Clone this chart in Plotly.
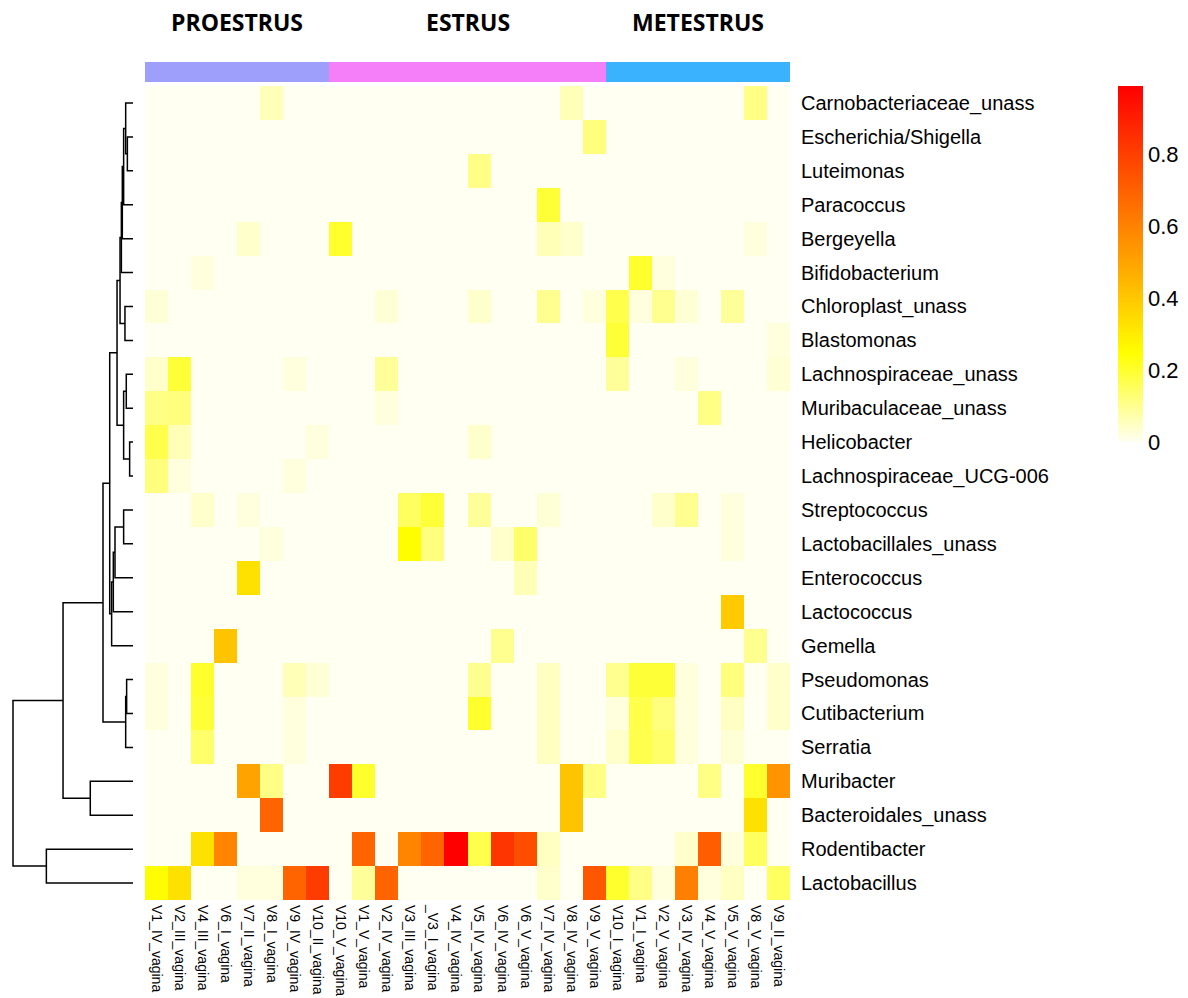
import plotly.graph_objects as go

# ---- data -------------------------------------------------------------
samples = [
    "V1_IV_vagina", "V2_III_vagina", "V4_III_vagina", "V6_I_vagina",
    "V7_II_vagina", "V8_I_vagina", "V9_IV_vagina", "V10_II_vagina",
    "V10_V_vagina", "V1_V_vagina", "V2_IV_vagina", "V3_III_vagina",
    "_V3_I_vagina", "V4_IV_vagina", "V5_IV_vagina", "V6_IV_vagina",
    "V6_V_vagina", "V7_IV_vagina", "V8_IV_vagina", "V9_V_vagina",
    "V10_I_vagina", "V1_I_vagina", "V2_V_vagina", "V3_IV_vagina",
    "V4_V_vagina", "V5_V_vagina", "V8_V_vagina", "V9_II_vagina",
]
stage = ["PROESTRUS"] * 8 + ["ESTRUS"] * 12 + ["METESTRUS"] * 8
stage_names = ["PROESTRUS", "ESTRUS", "METESTRUS"]
stage_colors = ["#9E9EFB", "#F57EF9", "#3BB2FD"]

taxa = [
    "Carnobacteriaceae_unass", "Escherichia/Shigella", "Luteimonas",
    "Paracoccus", "Bergeyella", "Bifidobacterium", "Chloroplast_unass",
    "Blastomonas", "Lachnospiraceae_unass", "Muribaculaceae_unass",
    "Helicobacter", "Lachnospiraceae_UCG-006", "Streptococcus",
    "Lactobacillales_unass", "Enterococcus", "Lactococcus", "Gemella",
    "Pseudomonas", "Cutibacterium", "Serratia", "Muribacter",
    "Bacteroidales_unass", "Rodentibacter", "Lactobacillus",
]

# relative abundance: one row per taxon, one column per sample
rel_abundance = [
    # Carnobacteriaceae_unass
    [0, 0, 0, 0, 0, .06, 0, 0, 0, 0, 0, 0, 0, 0, 0, 0, 0, 0, .06, 0, 0, 0, 0, 0, 0, 0, .11, 0],
    # Escherichia/Shigella
    [0, 0, 0, 0, 0, 0, 0, 0, 0, 0, 0, 0, 0, 0, 0, 0, 0, 0, 0, .12, 0, 0, 0, 0, 0, 0, 0, 0],
    # Luteimonas
    [0, 0, 0, 0, 0, 0, 0, 0, 0, 0, 0, 0, 0, 0, .11, 0, 0, 0, 0, 0, 0, 0, 0, 0, 0, 0, 0, 0],
    # Paracoccus
    [0, 0, 0, 0, 0, 0, 0, 0, 0, 0, 0, 0, 0, 0, 0, 0, 0, .19, 0, 0, 0, 0, 0, 0, 0, 0, 0, 0],
    # Bergeyella
    [0, 0, 0, 0, .04, 0, 0, 0, .20, 0, 0, 0, 0, 0, 0, 0, 0, .06, .04, 0, 0, 0, 0, 0, 0, 0, .02, 0],
    # Bifidobacterium
    [0, 0, .02, 0, 0, 0, 0, 0, 0, 0, 0, 0, 0, 0, 0, 0, 0, 0, 0, 0, 0, .20, .02, 0, 0, 0, 0, 0],
    # Chloroplast_unass
    [.03, 0, 0, 0, 0, 0, 0, 0, 0, 0, .03, 0, 0, 0, .04, 0, 0, .10, 0, .02, .17, .02, .10, .03, 0, .09, 0, 0],
    # Blastomonas
    [0, 0, 0, 0, 0, 0, 0, 0, 0, 0, 0, 0, 0, 0, 0, 0, 0, 0, 0, 0, .19, 0, 0, 0, 0, 0, 0, .02],
    # Lachnospiraceae_unass
    [.04, .19, 0, 0, 0, 0, .02, 0, 0, 0, .09, 0, 0, 0, 0, 0, 0, 0, 0, 0, .09, 0, 0, .02, 0, 0, 0, .03],
    # Muribaculaceae_unass
    [.11, .12, 0, 0, 0, 0, 0, 0, 0, 0, .02, 0, 0, 0, 0, 0, 0, 0, 0, 0, 0, 0, 0, 0, .11, 0, 0, 0],
    # Helicobacter
    [.17, .06, 0, 0, 0, 0, 0, .02, 0, 0, 0, 0, 0, 0, .04, 0, 0, 0, 0, 0, 0, 0, 0, 0, 0, 0, 0, 0],
    # Lachnospiraceae_UCG-006
    [.12, .02, 0, 0, 0, 0, .02, 0, 0, 0, 0, 0, 0, 0, 0, 0, 0, 0, 0, 0, 0, 0, 0, 0, 0, 0, 0, 0],
    # Streptococcus
    [0, 0, .04, 0, .02, 0, 0, 0, 0, 0, 0, .15, .19, 0, .09, 0, 0, .03, 0, 0, 0, 0, .04, .10, 0, .02, 0, 0],
    # Lactobacillales_unass
    [0, 0, 0, 0, 0, .02, 0, 0, 0, 0, 0, .25, .12, 0, 0, .04, .14, 0, 0, 0, 0, 0, 0, 0, 0, .02, 0, 0],
    # Enterococcus
    [0, 0, 0, 0, .33, 0, 0, 0, 0, 0, 0, 0, 0, 0, 0, 0, .06, 0, 0, 0, 0, 0, 0, 0, 0, 0, 0, 0],
    # Lactococcus
    [0, 0, 0, 0, 0, 0, 0, 0, 0, 0, 0, 0, 0, 0, 0, 0, 0, 0, 0, 0, 0, 0, 0, 0, 0, .39, 0, 0],
    # Gemella
    [0, 0, 0, .41, 0, 0, 0, 0, 0, 0, 0, 0, 0, 0, 0, .10, 0, 0, 0, 0, 0, 0, 0, 0, 0, 0, .10, 0],
    # Pseudomonas
    [.02, 0, .20, 0, 0, 0, .06, .03, 0, 0, 0, 0, 0, 0, .10, 0, 0, .05, 0, 0, .10, .19, .19, .02, 0, .12, 0, .04],
    # Cutibacterium
    [.02, 0, .19, 0, 0, 0, .02, 0, 0, 0, 0, 0, 0, 0, .20, 0, 0, .05, 0, 0, .02, .17, .12, .02, 0, .05, 0, .04],
    # Serratia
    [0, 0, .14, 0, 0, 0, .02, 0, 0, 0, 0, 0, 0, 0, 0, 0, 0, .05, 0, 0, .04, .17, .14, .02, 0, .03, 0, 0],
    # Muribacter
    [0, 0, 0, 0, .50, .11, 0, 0, .81, .20, 0, 0, 0, 0, 0, 0, 0, 0, .41, .11, 0, 0, 0, 0, .11, 0, .20, .55],
    # Bacteroidales_unass
    [0, 0, 0, 0, 0, .69, 0, 0, 0, 0, 0, 0, 0, 0, 0, 0, 0, 0, .41, 0, 0, 0, 0, 0, 0, 0, .33, 0],
    # Rodentibacter
    [0, 0, .33, .59, 0, 0, 0, 0, 0, .69, 0, .59, .69, .99, .17, .83, .76, .05, 0, 0, 0, 0, 0, .04, .71, .02, .15, 0],
    # Lactobacillus
    [.25, .33, 0, 0, .02, .02, .69, .81, 0, .09, .69, 0, 0, 0, 0, 0, 0, .04, 0, .73, .20, .11, .02, .61, .02, .05, 0, .15],
]

# row clustering (hclust-style merge list): (child_a, child_b, height)
# ids 0..23 are taxa in display order, 24+ are the merged clusters
row_merges = [
    (1, 2, 0.047), (0, 24, 0.061), (25, 3, 0.078), (26, 4, 0.089),
    (6, 7, 0.067), (27, 5, 0.097), (29, 28, 0.108), (8, 9, 0.056),
    (10, 11, 0.028), (31, 32, 0.078), (30, 33, 0.133), (12, 13, 0.078),
    (35, 14, 0.150), (36, 15, 0.164), (37, 16, 0.178), (34, 38, 0.194),
    (17, 18, 0.053), (40, 19, 0.061), (39, 41, 0.250), (20, 21, 0.356),
    (42, 43, 0.583), (22, 23, 0.722), (44, 45, 1.000),
]

# ---- geometry -----------------------------------------------------------
W, H = 1188, 998
heat_x0, heat_x1 = 145, 790
heat_y0, heat_y1 = 86, 900
bar_y0, bar_y1 = 62, 82


def px_x(p):
    return p / W


def px_y(p):
    return 1 - p / H


n_taxa = len(taxa)
n_samples = len(samples)
zmax = max(max(r) for r in rel_abundance)

heat_scale = [
    [0.0, "#FFFFF2"],
    [0.25, "#FFFF00"],
    [0.5, "#FFA500"],
    [1.0, "#FF0000"],
]

fig = go.Figure()

# main heatmap
fig.add_trace(go.Heatmap(
    z=rel_abundance,
    x=list(range(n_samples)),
    y=list(range(n_taxa)),
    zmin=0, zmax=zmax,
    colorscale=heat_scale,
    xaxis="x", yaxis="y",
    hoverinfo="skip",
    colorbar=dict(
        x=px_x(1118), xanchor="left",
        y=px_y(86), yanchor="top",
        len=356, lenmode="pixels",
        thickness=25, thicknessmode="pixels",
        xpad=0, ypad=0,
        outlinewidth=0,
        ticks="",
        tickvals=[0, 0.2, 0.4, 0.6, 0.8],
        ticktext=["0", "0.2", "0.4", "0.6", "0.8"],
        tickfont=dict(family="Liberation Sans, Arial", size=22, color="black"),
    ),
))

# stage annotation strip above the heatmap
stage_idx = [stage_names.index(s) for s in stage]
strip_scale = [
    [0.0, stage_colors[0]], [1 / 3, stage_colors[0]],
    [1 / 3, stage_colors[1]], [2 / 3, stage_colors[1]],
    [2 / 3, stage_colors[2]], [1.0, stage_colors[2]],
]
fig.add_trace(go.Heatmap(
    z=[stage_idx],
    x=list(range(n_samples)),
    y=[0],
    zmin=0, zmax=2,
    colorscale=strip_scale,
    showscale=False,
    xaxis="x", yaxis="y2",
    hoverinfo="skip",
))

# dendrogram on the rows
pos = {i: float(i) for i in range(n_taxa)}
hgt = {i: 0.0 for i in range(n_taxa)}
dx, dy = [], []
for k, (a, b, h) in enumerate(row_merges):
    cid = n_taxa + k
    dx += [hgt[a], h, h, hgt[b], None]
    dy += [pos[a], pos[a], pos[b], pos[b], None]
    pos[cid] = (pos[a] + pos[b]) / 2
    hgt[cid] = h

fig.add_trace(go.Scatter(
    x=dx, y=dy, mode="lines",
    line=dict(color="black", width=1.5),
    xaxis="x3", yaxis="y",
    hoverinfo="skip", showlegend=False,
))

# stage titles
for name in stage_names:
    cols = [i for i, s in enumerate(stage) if s == name]
    fig.add_annotation(
        x=(cols[0] + cols[-1]) / 2, xref="x",
        y=px_y(22), yref="paper",
        text="<b>" + name + "</b>",
        showarrow=False,
        font=dict(family="Open Sans", size=23, color="black"),
        xanchor="center", yanchor="middle",
    )

label_font = dict(family="Liberation Sans, Arial", color="black")

fig.update_layout(
    width=W, height=H,
    margin=dict(l=0, r=0, t=0, b=0, autoexpand=False),
    paper_bgcolor="white",
    plot_bgcolor="white",
    showlegend=False,
    xaxis=dict(
        domain=[px_x(heat_x0), px_x(heat_x1)],
        range=[-0.5, n_samples - 0.5],
        anchor="y",
        automargin=False,
        tickmode="array",
        tickvals=list(range(n_samples)),
        ticktext=samples,
        tickangle=90,
        ticks="",
        ticklabelstandoff=4,
        tickfont=dict(size=14, **label_font),
        showgrid=False, zeroline=False, showline=False,
    ),
    yaxis=dict(
        domain=[px_y(heat_y1), px_y(heat_y0)],
        range=[n_taxa - 0.5, -0.5],
        anchor="x",
        automargin=False,
        side="right",
        tickmode="array",
        tickvals=list(range(n_taxa)),
        ticktext=taxa,
        ticks="",
        ticklabelstandoff=10,
        tickfont=dict(size=20, **label_font),
        showgrid=False, zeroline=False, showline=False,
    ),
    yaxis2=dict(
        domain=[px_y(bar_y1), px_y(bar_y0)],
        range=[-0.5, 0.5],
        anchor="x",
        automargin=False,
        showticklabels=False, ticks="",
        showgrid=False, zeroline=False, showline=False,
    ),
    xaxis3=dict(
        domain=[0, px_x(heat_x0)],
        range=[1.1083, -0.1],
        anchor="y",
        automargin=False,
        showticklabels=False, ticks="",
        showgrid=False, zeroline=False, showline=False,
    ),
)

fig.write_html("out.html")
